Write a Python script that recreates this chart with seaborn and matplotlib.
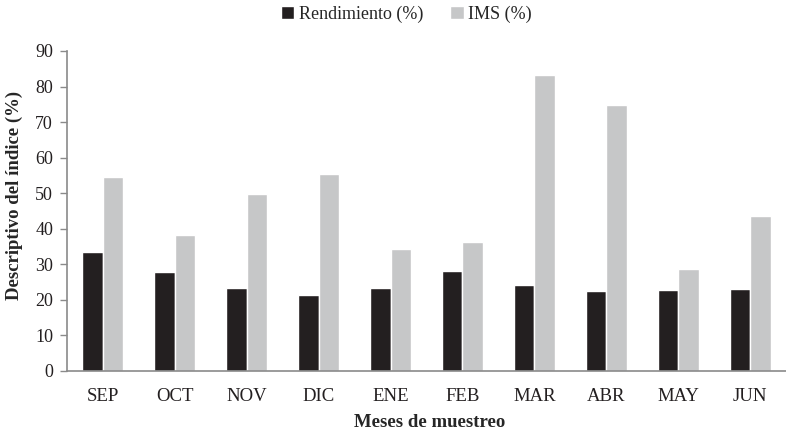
import matplotlib
matplotlib.use("Agg")
import matplotlib.pyplot as plt
import pandas as pd
import seaborn as sns

MESES = ["SEP", "OCT", "NOV", "DIC", "ENE", "FEB", "MAR", "ABR", "MAY", "JUN"]
RENDIMIENTO = [33.5, 27.7, 23.4, 21.3, 23.3, 28.0, 24.1, 22.5, 22.8, 23.1]
IMS = [54.5, 38.2, 49.9, 55.4, 34.4, 36.3, 83.3, 74.9, 28.7, 43.5]
SERIES = ["Rendimiento (%)", "IMS (%)"]
COLORS = ["#231f20", "#c6c7c8"]
Y_TICKS = list(range(0, 91, 10))

df = pd.DataFrame({
    "mes": MESES * 2,
    "serie": [SERIES[0]] * len(MESES) + [SERIES[1]] * len(MESES),
    "valor": RENDIMIENTO + IMS,
})

sns.set_style("white")
plt.rcParams["font.family"] = ["Liberation Serif", "DejaVu Serif"]

fig = plt.figure(figsize=(7.86, 4.34), dpi=100)
ax = fig.add_axes([0.0852, 0.1452, 0.9148, 0.7373])

sns.barplot(
    data=df, x="mes", y="valor", hue="serie", order=MESES, hue_order=SERIES,
    palette=COLORS, width=0.57, saturation=1, ax=ax, legend=True,
)

ax.set_ylim(0, 90)
ax.set_xlim(-0.5, len(MESES) - 0.5)
ax.set_yticks(Y_TICKS)
ax.tick_params(axis="y", left=True, length=5, width=1, color="#8a8a8a",
               labelsize=13, labelcolor="#231f20", pad=5)
ax.tick_params(axis="x", bottom=False, length=0, labelsize=13.5,
               labelcolor="#231f20", pad=12)

for side in ["top", "right"]:
    ax.spines[side].set_visible(False)
for side in ["left", "bottom"]:
    ax.spines[side].set_color("#8a8a8a")
    ax.spines[side].set_linewidth(1.2)

ax.set_xlabel("Meses de muestreo", fontsize=13.5, fontweight="bold")
ax.set_ylabel("Descriptivo del índice (%)", fontsize=13.5, fontweight="bold")
ax.xaxis.label.set_va("center")
ax.xaxis.set_label_coords(0.504, -0.16)
ax.yaxis.label.set_va("center")
ax.yaxis.set_label_coords(-0.073, 0.55)

handles, labels = ax.get_legend_handles_labels()
ax.legend_.remove()
fig.legend(handles, labels, loc="center", bbox_to_anchor=(0.517, 0.968), ncol=2,
           frameon=False, fontsize=13, handlelength=0.75, handleheight=0.75,
           handletextpad=0.25, columnspacing=1.5)

fig.savefig("out.png", dpi=100)
plt.close(fig)
